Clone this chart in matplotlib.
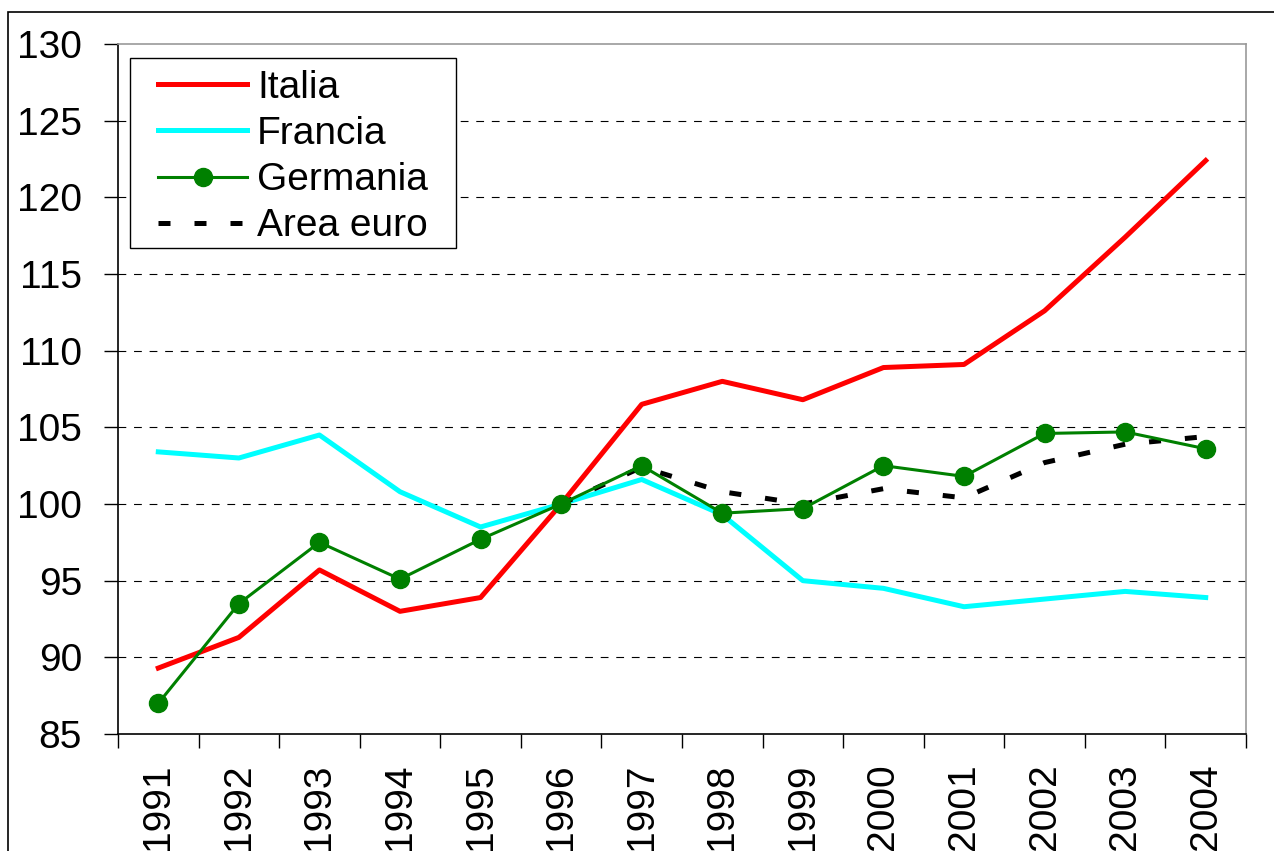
import matplotlib.pyplot as plt
from matplotlib.patches import Rectangle
from matplotlib.ticker import MultipleLocator, FixedLocator

plt.rcParams["font.family"] = ["Liberation Sans", "DejaVu Sans"]

# Data (index, 1996 = 100)
years = ["1991", "1992", "1993", "1994", "1995", "1996", "1997",
         "1998", "1999", "2000", "2001", "2002", "2003", "2004"]
italia = [89.3, 91.3, 95.7, 93.0, 93.9, 100.0, 106.5,
          108.0, 106.8, 108.9, 109.1, 112.6, 117.4, 122.4]
francia = [103.4, 103.0, 104.5, 100.8, 98.5, 100.0, 101.6,
           99.3, 95.0, 94.5, 93.3, 93.8, 94.3, 93.9]
germania = [87.0, 93.5, 97.5, 95.1, 97.7, 100.0, 102.5,
            99.4, 99.7, 102.5, 101.8, 104.6, 104.7, 103.6]
euro_years = years[5:]
area_euro = [100.0, 102.4, 100.8, 100.0, 101.0, 100.4, 102.7, 103.9, 104.4]

W, H = 1274, 851
fig = plt.figure(figsize=(W / 100, H / 100), dpi=100)
ax = fig.add_axes([118 / W, 1 - 734 / H, 1128 / W, 690 / H])

# Outer chart border (cropped at right and bottom)
fig.patches.append(Rectangle((8 / W, -0.2), 1.2, 1.2 - 12 / H,
                             transform=fig.transFigure, fill=False,
                             edgecolor="black", linewidth=1.2))

x = list(range(len(years)))
xe = x[5:]

ax.plot(x, italia, color="#ff0000", linewidth=3.6, label="Italia", zorder=3)
ax.plot(x, francia, color="#00ffff", linewidth=3.6, label="Francia", zorder=3)
ax.plot(x, germania, color="#008000", linewidth=2.2, marker="o",
        markersize=13, label="Germania", zorder=4)
ax.plot(xe, area_euro, color="black", linewidth=3.6, dashes=(2.4, 4.8),
        label="Area euro", zorder=3)

ax.set_xlim(-0.5, len(years) - 0.5)
ax.set_ylim(85, 130)

# Gridlines
for v in range(90, 130, 5):
    ax.axhline(v, color="black", linewidth=0.8, dashes=(7, 7), zorder=1)

ax.yaxis.set_major_locator(MultipleLocator(5))
ax.set_xticks(x)
ax.set_xticklabels(years, rotation=90)
ax.xaxis.set_minor_locator(FixedLocator([i - 0.5 for i in range(len(years) + 1)]))
ax.tick_params(axis="x", which="major", length=0, pad=21, labelsize=28)
ax.tick_params(axis="x", which="minor", length=10, width=1.0, direction="out")
ax.tick_params(axis="y", length=10, width=1.0, direction="out", pad=16, labelsize=28)

ax.spines["left"].set_color("black")
ax.spines["bottom"].set_color("black")
ax.spines["top"].set_color("#999999")
ax.spines["right"].set_color("#999999")
for s in ax.spines.values():
    s.set_linewidth(1.2)

# Legend box drawn separately so padding can differ left/top
box = Rectangle((130 / W, 1 - 248 / H), 326 / W, 190 / H,
                transform=fig.transFigure, facecolor="white",
                edgecolor="black", linewidth=1.0, zorder=5, clip_on=False)
ax.add_patch(box)
leg = ax.legend(loc="upper left", bbox_to_anchor=(158 / W, 1 - 70 / H),
                bbox_transform=fig.transFigure,
                fontsize=28, frameon=False,
                handlelength=2.29, handletextpad=0.26, borderpad=0,
                labelspacing=0.26, borderaxespad=0)
leg.set_zorder(6)

fig.savefig("out.png", dpi=100)
